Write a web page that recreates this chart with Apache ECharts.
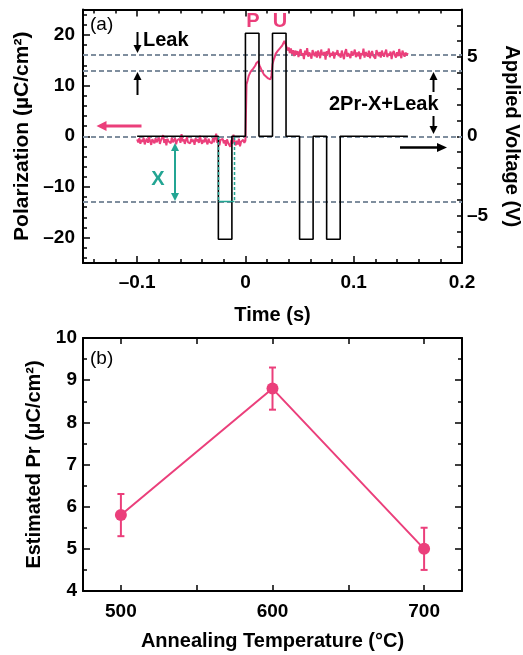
<!DOCTYPE html>
<html><head><meta charset="utf-8">
<script src="https://cdn.jsdelivr.net/npm/echarts@6/dist/echarts.min.js"></script>
<style>html,body{margin:0;padding:0;background:#fff}#c{width:523px;height:655px}</style>
</head><body><div id="c"></div>
<script>
// ---------- DATA ----------
// Panel (a): polarization trace, sampled every 1 ms from -0.1 s
const polStart = -0.1;
const polStep = 0.001;
const polValues = [
 -0.6,-1.2,-0.4,-1.5,-0.7,-1.1,-0.3,-1.6,-0.9,-0.5,
 -1.3,-0.2,-1.0,-1.7,-0.6,-0.9,-1.4,-0.4,-1.2,-0.7,
 -0.3,-1.5,-0.8,-1.1,0.2,-1.3,-0.6,-1.8,-0.5,-1.0,
 -0.7,-1.4,-0.3,-1.2,-0.9,-0.4,-1.6,-0.8,-1.1,-0.5,
 -1.3,0.4,-1.0,-0.6,-1.5,-0.8,-0.2,-1.2,-0.9,-1.4,
 -0.5,-1.1,-0.7,-1.7,-0.4,-1.0,-0.6,-1.3,0.1,-0.9,
 -1.5,-0.7,-1.2,-0.3,-1.0,-1.6,-0.5,-1.1,-0.8,-1.4,
 -0.4,-1.2,-0.9,0.5,-1.3,-0.6,-1.8,-0.7,-1.0,-0.5,
 -1.4,-0.8,-1.9,-0.6,-1.3,-1.0,-2.1,-0.7,-1.5,0.3,
 -1.2,-1.8,-0.9,-1.6,-0.5,-2.0,-1.1,-1.4,-0.7,-1.3,
 -0.9,10.2,11.0,11.9,12.0,12.8,12.6,13.3,13.6,13.9,14.4,14.3,14.8,
 13.9,13.5,13.0,12.8,12.2,12.4,11.8,12.1,11.4,11.7,11.2,11.9,
 14.2,15.0,15.6,16.3,16.0,16.9,16.7,17.4,17.2,17.9,18.1,18.8,18.2,
 17.6,16.9,17.5,16.4,17.3,16.2,17.0,15.8,16.9,16.1,
 16.8,15.6,16.6,17.2,15.9,16.4,15.2,16.9,16.0,17.4,
 15.7,16.5,16.1,15.3,17.0,16.2,15.8,16.7,15.5,16.9,
 16.3,15.4,17.1,16.0,15.9,16.6,15.1,16.8,16.2,17.3,
 15.6,16.4,15.9,16.7,15.3,16.5,16.1,17.0,15.8,16.3,
 15.5,16.9,16.0,15.2,16.6,17.2,15.7,16.4,16.1,15.4,
 16.8,15.9,16.3,17.1,15.6,16.5,15.8,16.7,15.2,16.4,
 16.0,17.3,15.5,16.6,16.2,15.7,16.9,15.4,16.3,16.8,
 15.9,16.1,15.3,17.0,16.4,15.8,16.6,15.5,16.9,16.2,
 15.7,16.5,17.1,15.6,16.3,15.9,16.7,15.2,16.4,16.8,
 16.0,15.5,16.6,15.8,17.2,16.1,15.4,16.9,16.3,15.7,
 16.5,16.0,16.4
];
// Panel (a): applied voltage waveform (step corners)
const voltTimes  = [-0.1,-0.025,-0.025,-0.0125,-0.0125,0,0,0.0125,0.0125,0.025,0.025,0.0375,0.0375,0.05,0.05,0.0625,0.0625,0.075,0.075,0.0875,0.0875,0.15];
const voltValues = [0,0,-6.5,-6.5,0,0,6.5,6.5,0,0,6.5,6.5,0,0,-6.5,-6.5,0,0,-6.5,-6.5,0,0];
const refLevels = [16, 13, 0, -13];
const timeTicks = [-0.1, 0, 0.1, 0.2];
const timeMinorTicks = [-0.14,-0.12,-0.08,-0.06,-0.04,-0.02,0.02,0.04,0.06,0.08,0.12,0.14,0.16,0.18];
const polTicks = [-20, -10, 0, 10, 20];
const polMinorTicks = [-24,-22,-18,-16,-14,-12,-8,-6,-4,-2,2,4,6,8,12,14,16,18,22,24];
const voltLabelTicks = [-5, 0, 5];
// Panel (b)
const tempValues = [500, 600, 700];
const prValues = [5.8, 8.8, 5.0];
const prErrors = [0.5, 0.5, 0.5];
const tempLabelTicks = [500, 600, 700];
const tempAllTicks = [500, 550, 600, 650, 700];

// ---------- STYLE ----------
const PINK = '#EB3F7B', TEAL = '#23A593', GRAY = '#7F8E9E', FONT = 'Liberation Sans';
const fmt = v => (v < 0 ? '\u2013' + String(-v) : String(v));
const lblStyle = {color:'#000', fontFamily:FONT, fontWeight:'bold', fontSize:19};
const nameStyle = {color:'#000', fontFamily:FONT, fontWeight:'bold', fontSize:20};
const lineBlk = {show:true, onZero:false, lineStyle:{color:'#000', width:2}};
const noLine = {show:false, onZero:false};

function xAx(o){return Object.assign({type:'value', splitLine:{show:false}}, o);}

const polData = polValues.map((v,i)=>[+(polStart + i*polStep).toFixed(4), v]);
const voltData = voltTimes.map((t,i)=>[t, voltValues[i]]);
const prData = tempValues.map((t,i)=>[t, prValues[i]]);
const errData = tempValues.map((t,i)=>[t, prValues[i]-prErrors[i], prValues[i]+prErrors[i]]);

const chart = echarts.init(document.getElementById('c'), null, {renderer:'canvas'});
const option = {
  animation:false,
  backgroundColor:'#fff',
  grid:[
    {left:83, top:9.5, width:379, height:253.5, containLabel:false, outerBoundsMode:'none'},
    {left:83, top:338, width:379, height:253, containLabel:false, outerBoundsMode:'none'}
  ],
  xAxis:[
    xAx({gridIndex:0, position:'bottom', min:-0.15, max:0.2, axisLine:lineBlk,
      axisTick:{inside:true, length:7, customValues:timeTicks, lineStyle:{width:1.5,color:'#000'}},
      axisLabel:Object.assign({customValues:timeTicks, formatter:fmt, margin:10}, lblStyle),
      name:'Time (s)', nameLocation:'middle', nameGap:42, nameTextStyle:nameStyle}),
    xAx({gridIndex:0, position:'bottom', min:-0.15, max:0.2, axisLine:noLine,
      axisTick:{inside:true, length:4, customValues:timeMinorTicks, lineStyle:{width:1.5,color:'#000'}},
      axisLabel:{show:false}}),
    xAx({gridIndex:0, position:'top', min:-0.15, max:0.2, axisLine:lineBlk,
      axisTick:{inside:true, length:7, customValues:timeTicks, lineStyle:{width:1.5,color:'#000'}},
      axisLabel:{show:false}}),
    xAx({gridIndex:0, position:'top', min:-0.15, max:0.2, axisLine:noLine,
      axisTick:{inside:true, length:4, customValues:timeMinorTicks, lineStyle:{width:1.5,color:'#000'}},
      axisLabel:{show:false}}),
    xAx({gridIndex:1, position:'bottom', min:475, max:725, axisLine:lineBlk,
      axisTick:{inside:true, length:6, customValues:tempAllTicks, lineStyle:{width:1.5,color:'#000'}},
      axisLabel:Object.assign({customValues:tempLabelTicks, margin:11}, lblStyle),
      name:'Annealing Temperature (\u00B0C)', nameLocation:'middle', nameGap:40, nameTextStyle:nameStyle}),
    xAx({gridIndex:1, position:'top', min:475, max:725, axisLine:lineBlk,
      axisTick:{inside:true, length:6, customValues:tempAllTicks, lineStyle:{width:1.5,color:'#000'}},
      axisLabel:{show:false}})
  ],
  yAxis:[
    {type:'value', gridIndex:0, position:'left', min:-25, max:25, splitLine:{show:false}, axisLine:lineBlk,
      axisTick:{inside:true, length:7, customValues:polTicks, lineStyle:{width:1.5,color:'#000'}},
      axisLabel:Object.assign({customValues:polTicks, formatter:fmt, margin:8}, lblStyle),
      name:'Polarization (\u00B5C/cm\u00B2)', nameLocation:'middle', nameGap:40, nameRotate:90, nameTextStyle:Object.assign({}, nameStyle, {fontSize:21})},
    {type:'value', gridIndex:0, position:'right', min:-8, max:8, interval:1, splitLine:{show:false}, axisLine:lineBlk,
      axisTick:{inside:true, length:5, lineStyle:{width:1.5,color:'#000'}},
      axisLabel:Object.assign({formatter:v => (v % 5 === 0 ? fmt(v) : ''), margin:5}, lblStyle),
      name:'Applied Voltage (V)', nameLocation:'middle', nameGap:40, nameRotate:-90, nameTextStyle:nameStyle},
    {type:'value', gridIndex:0, position:'left', min:-25, max:25, splitLine:{show:false}, axisLine:noLine,
      axisTick:{inside:true, length:4, customValues:polMinorTicks, lineStyle:{width:1.5,color:'#000'}},
      axisLabel:{show:false}},
    {type:'value', gridIndex:1, position:'left', min:4, max:10, interval:1, splitLine:{show:false}, axisLine:lineBlk,
      axisTick:{inside:true, length:7, lineStyle:{width:1.5,color:'#000'}},
      minorTick:{show:true, splitNumber:2, length:4, lineStyle:{width:1.5,color:'#000'}},
      axisLabel:Object.assign({margin:6}, lblStyle),
      name:'Estimated Pr (\u00B5C/cm\u00B2)', nameLocation:'middle', nameGap:37, nameRotate:90, nameTextStyle:nameStyle},
    {type:'value', gridIndex:1, position:'right', min:4, max:10, interval:1, splitLine:{show:false}, axisLine:lineBlk,
      axisTick:{inside:true, length:7, lineStyle:{width:1.5,color:'#000'}},
      minorTick:{show:true, splitNumber:2, length:4, lineStyle:{width:1.5,color:'#000'}},
      axisLabel:{show:false}}
  ],
  series:[
    {type:'line', name:'Polarization', xAxisIndex:0, yAxisIndex:0, data:polData, symbol:'none',
      lineStyle:{color:PINK, width:2}, z:3,
      markLine:{silent:true, symbol:'none', label:{show:false}, z:1,
        lineStyle:{color:GRAY, width:2, type:[5,3]},
        data:refLevels.map(v=>({yAxis:v}))}},
    {type:'line', name:'Voltage', xAxisIndex:0, yAxisIndex:1, data:voltData, symbol:'none',
      lineStyle:{color:'#000', width:1.6}, z:4},
    {type:'custom', xAxisIndex:4, yAxisIndex:3, data:errData, z:3,
      renderItem:function(params, api){
        const lo = api.coord([api.value(0), api.value(1)]);
        const hi = api.coord([api.value(0), api.value(2)]);
        const w = 3.5, st = {stroke:PINK, lineWidth:2};
        return {type:'group', children:[
          {type:'line', shape:{x1:lo[0], y1:lo[1], x2:hi[0], y2:hi[1]}, style:st},
          {type:'line', shape:{x1:lo[0]-w, y1:lo[1], x2:lo[0]+w, y2:lo[1]}, style:st},
          {type:'line', shape:{x1:hi[0]-w, y1:hi[1], x2:hi[0]+w, y2:hi[1]}, style:st}
        ]};
      }},
    {type:'line', name:'Pr', xAxisIndex:4, yAxisIndex:3, data:prData, symbol:'circle', symbolSize:12,
      itemStyle:{color:PINK}, lineStyle:{color:PINK, width:2}, z:4}
  ]
};

// ---------- ANNOTATIONS ----------
function arrow(x1,y1,x2,y2,color,w,hl,hw){
  hl = hl || 8; hw = hw || 4;
  const dx=x2-x1, dy=y2-y1, L=Math.hypot(dx,dy), ux=dx/L, uy=dy/L;
  const bx=x2-ux*hl, by=y2-uy*hl;
  return [
    {type:'line', shape:{x1:x1,y1:y1,x2:bx+ux*1,y2:by+uy*1}, style:{stroke:color, lineWidth:w}, z:50},
    {type:'polygon', shape:{points:[[x2,y2],[bx-uy*hw, by+ux*hw],[bx+uy*hw, by-ux*hw]]}, style:{fill:color}, z:50}
  ];
}
function txt(x,y,s,color,opts){
  return Object.assign({type:'text', x:x, y:y, z:50, style:Object.assign({text:s, fill:color, font:'bold 20px "Liberation Sans"', textAlign:'left', textVerticalAlign:'middle'}, opts||{})});
}
const g = [];
g.push(...arrow(137.5,32,137.5,53,'#000',2));
g.push(...arrow(137.5,95,137.5,72,'#000',2));
g.push(...arrow(433.5,92,433.5,72,'#000',2));
g.push(...arrow(433.5,116,433.5,134,'#000',2));
g.push(...arrow(141.5,126,96.5,126,PINK,3,10,5));
g.push(...arrow(400,147.5,447,147.5,'#000',2.5,10,4.5));
g.push(...arrow(175,170,175,143,TEAL,2,8,4));
g.push(...arrow(175,170,175,201,TEAL,2,8,4));
g.push({type:'line', shape:{x1:218.5,y1:137,x2:218.5,y2:201.5}, style:{stroke:TEAL, lineWidth:1.5, lineDash:[3,2]}, z:50});
g.push({type:'line', shape:{x1:234.5,y1:137,x2:234.5,y2:201.5}, style:{stroke:TEAL, lineWidth:1.5, lineDash:[3,2]}, z:50});
g.push({type:'line', shape:{x1:218.5,y1:201.5,x2:234.5,y2:201.5}, style:{stroke:TEAL, lineWidth:1.5}, z:50});
g.push(txt(90,25,'(a)','#000',{font:'19px "Liberation Sans"'}));
g.push(txt(90,359,'(b)','#000',{font:'19px "Liberation Sans"'}));
g.push(txt(253,21,'P',PINK,{textAlign:'center'}));
g.push(txt(280,21,'U',PINK,{textAlign:'center'}));
g.push(txt(143,40,'Leak','#000'));
g.push(txt(329,104.5,'2Pr-X+Leak','#000'));
g.push(txt(158,179,'X',TEAL,{textAlign:'center'}));
option.graphic = g;

chart.setOption(option);
</script>
</body></html>
